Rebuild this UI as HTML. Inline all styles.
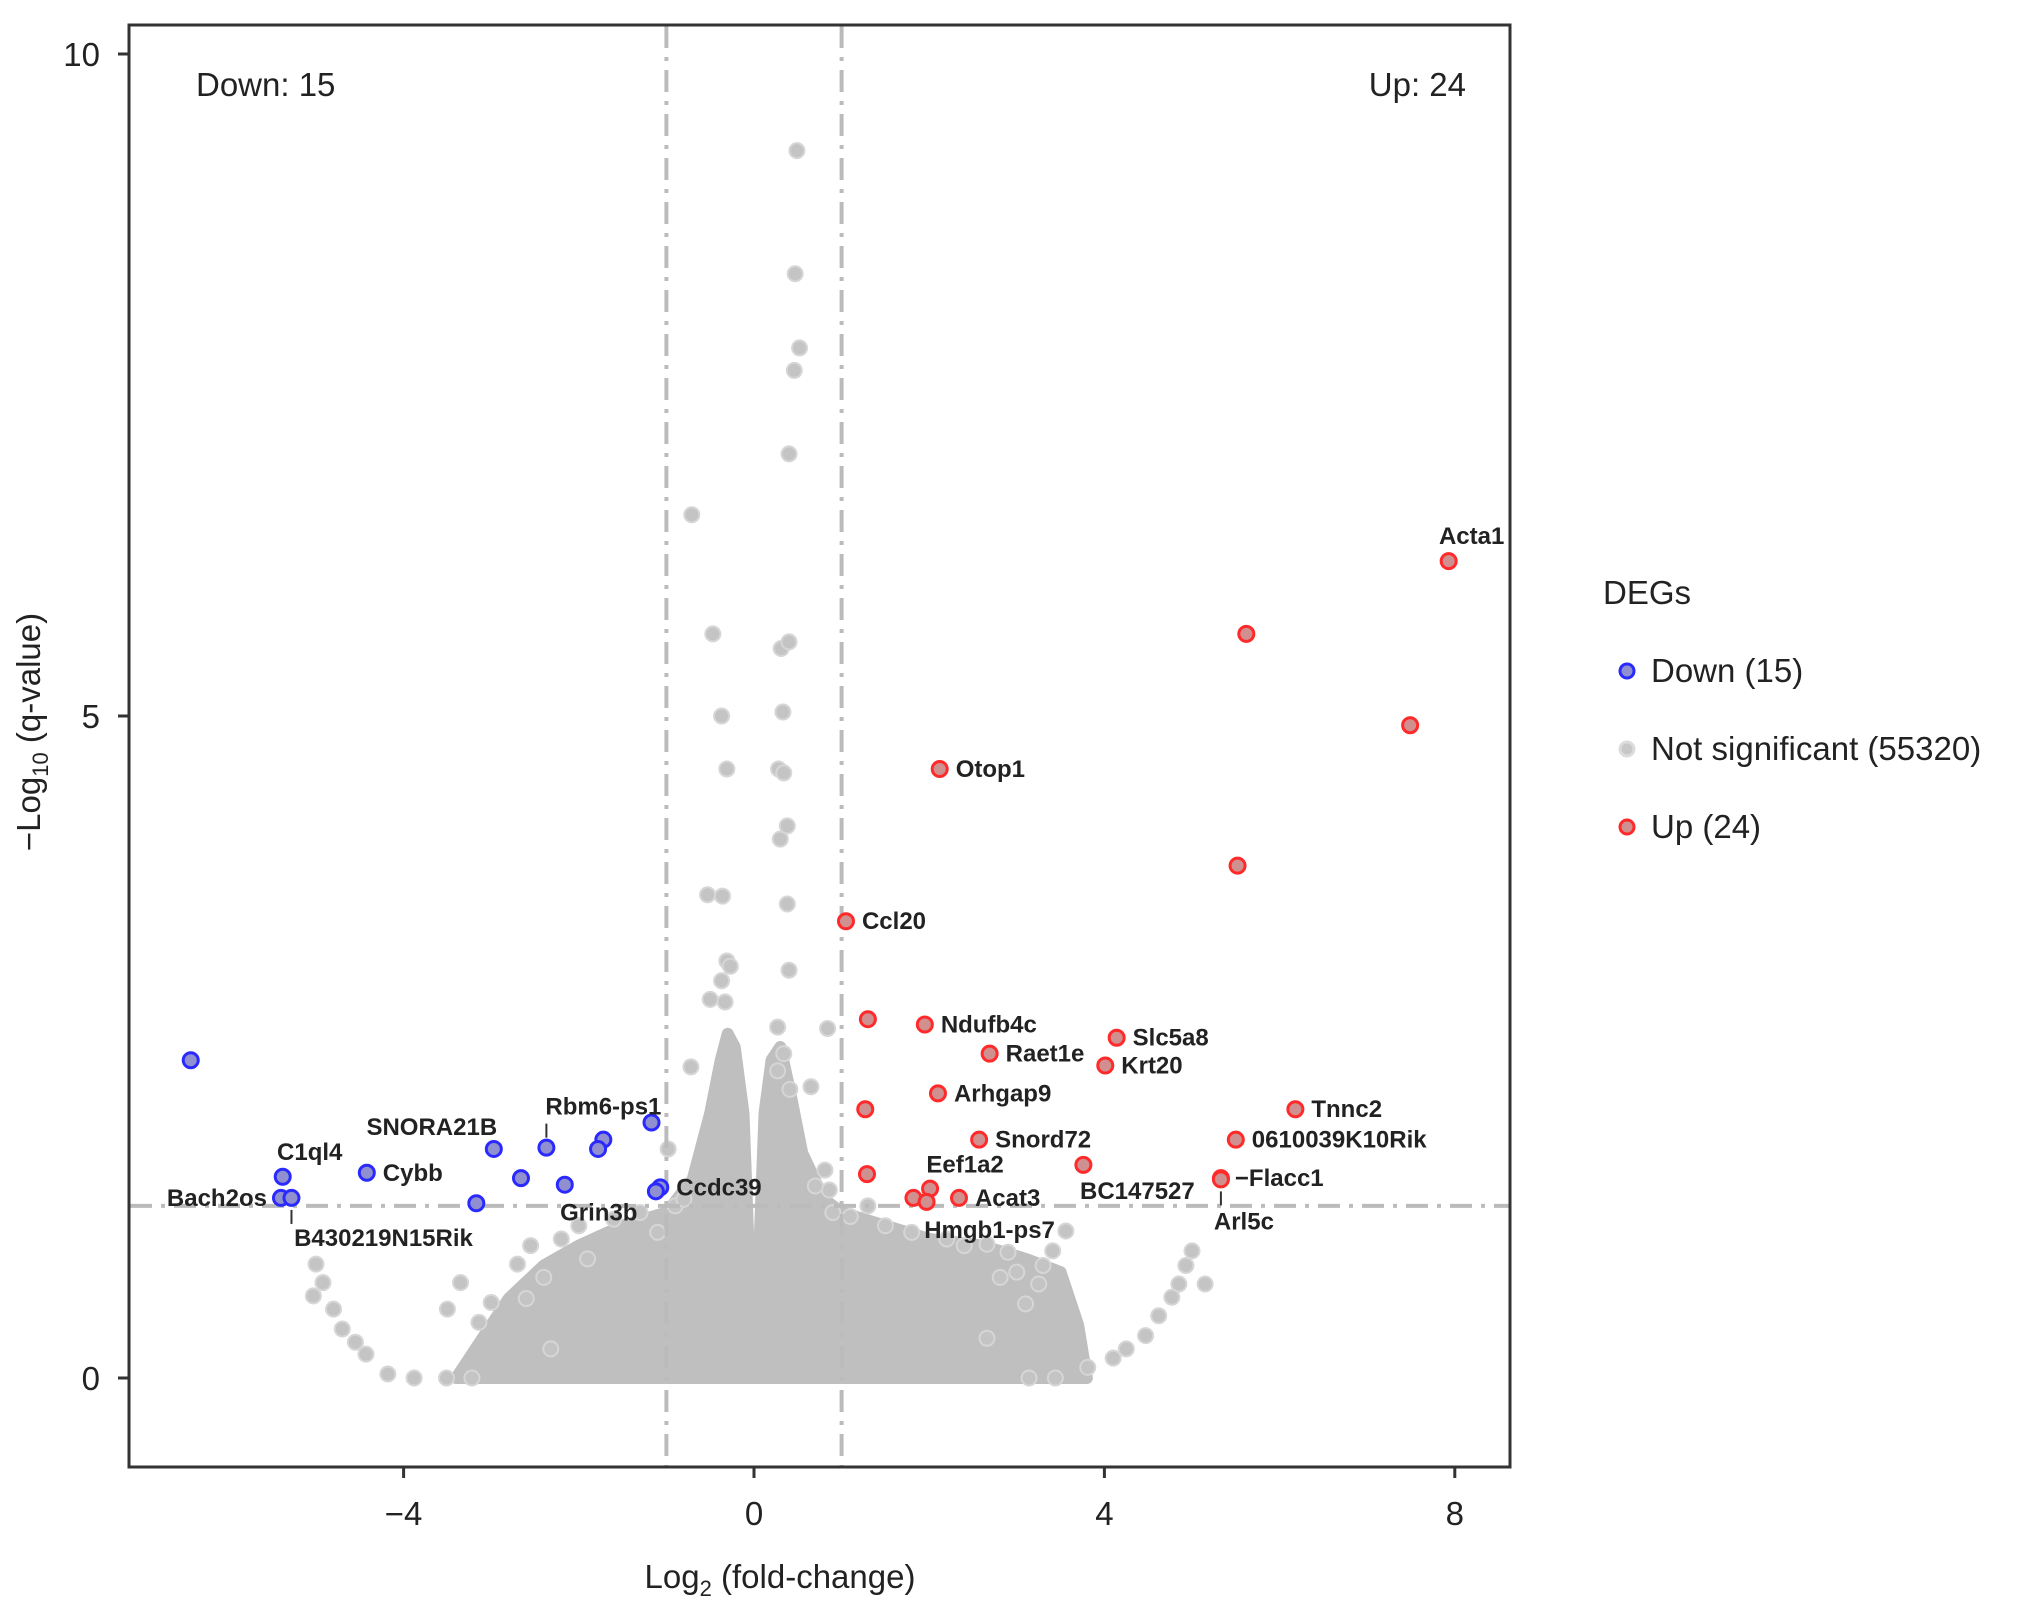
<!DOCTYPE html>
<html><head><meta charset="utf-8">
<style>
html,body{margin:0;padding:0;background:#fff;}
svg{display:block;font-family:"Liberation Sans",Arial,sans-serif;}
</style></head>
<body>
<svg id="chart" width="2032" height="1609" viewBox="0 0 2032 1609" xmlns="http://www.w3.org/2000/svg">
<rect x="0" y="0" width="2032" height="1609" fill="#fff"/>
<g id="cloud"></g>
<g id="grey"></g>
<g id="thr"></g>
<g id="sig"></g>
<g id="labels"></g>
<rect x="129" y="25" width="1381" height="1442" fill="none" stroke="#333" stroke-width="3"/>
<g id="axes"></g>
<text x="196" y="96" font-size="33" fill="#222">Down: 15</text>
<text x="1466" y="96" font-size="33" fill="#222" text-anchor="end">Up: 24</text>
<text x="780" y="1588" font-size="33" fill="#222" text-anchor="middle">Log<tspan font-size="22" dy="8">2</tspan><tspan dy="-8"> (fold-change)</tspan></text>
<text transform="translate(40,732) rotate(-90)" font-size="33" fill="#222" text-anchor="middle">−Log<tspan font-size="22" dy="8">10</tspan><tspan dy="-8"> (q-value)</tspan></text>
<g>
<text x="1603" y="604" font-size="33" fill="#222">DEGs</text>
<circle cx="1627" cy="671" r="7" fill="#9090d0" stroke="#2a2aff" stroke-width="3"/>
<text x="1651" y="682" font-size="33" fill="#222">Down (15)</text>
<circle cx="1627" cy="749" r="7" fill="#c8c8c8" stroke="#dcdcdc" stroke-width="3"/>
<text x="1651" y="760" font-size="33" fill="#222">Not significant (55320)</text>
<circle cx="1627" cy="827" r="7" fill="#d09090" stroke="#ff2a2a" stroke-width="3"/>
<text x="1651" y="838" font-size="33" fill="#222">Up (24)</text>
</g>
</svg>
<script>
// ---- data ----
const upX = [7.93,5.62,7.49,5.52,2.12,1.05,1.30,1.95,2.69,4.14,4.01,2.10,1.27,6.18,2.57,5.50,3.76,5.33,5.33,1.29,2.01,2.34,1.82,1.97];
const upY = [6.17,5.62,4.93,3.87,4.60,3.45,2.71,2.67,2.45,2.57,2.36,2.15,2.03,2.03,1.80,1.80,1.61,1.51,1.50,1.54,1.43,1.36,1.36,1.33];
const upNames = ["Acta1","","","","Otop1","Ccl20","","Ndufb4c","Raet1e","Slc5a8","Krt20","Arhgap9","","Tnnc2","Snord72","0610039K10Rik","BC147527","−Flacc1","Arl5c","","Eef1a2","Acat3","","Hmgb1-ps7"];
const downX = [-6.43,-1.17,-1.72,-1.78,-2.97,-2.37,-4.42,-2.66,-2.16,-5.38,-5.40,-5.28,-3.17,-1.07,-1.12];
const downY = [2.40,1.93,1.80,1.73,1.73,1.74,1.55,1.51,1.46,1.52,1.36,1.36,1.32,1.44,1.41];
const downNames = ["","","","","SNORA21B","Rbm6-ps1","Cybb","","Grin3b","C1ql4","Bach2os","B430219N15Rik","","Ccdc39",""];
const greyX = [0.49,0.47,0.52,0.46,0.40,-0.71,-0.47,0.31,0.40,-0.37,0.33,-0.31,0.28,0.34,0.38,0.30,-0.53,-0.36,0.38,-0.31,-0.27,0.40,-0.37,-0.50,-0.33,0.84,0.27,0.34,-0.72,0.65,0.81,0.86,-0.98,0.41,0.27,
 -5.03,-4.92,-4.80,-4.70,-4.55,-4.43,-4.18,-3.88,-3.51,-3.22,-5.00,-3.35,-3.50,-3.14,-3.00,-2.70,-2.55,-2.40,-2.32,
 5.0,5.15,4.85,4.77,4.62,4.47,4.25,4.10,3.81,3.44,3.14,4.93,3.56,3.41,3.25,3.10,2.66,2.66,2.81,
 -2.0,-1.6,-1.3,-0.9,-2.2,1.1,1.5,2.2,2.9,3.3,0.7,-0.8,1.8,-1.9,2.4,-2.6,3.0,-1.1,1.3,0.9];
const greyY = [9.27,8.34,7.78,7.61,6.98,6.52,5.62,5.51,5.56,5.00,5.03,4.60,4.60,4.57,4.17,4.07,3.65,3.64,3.58,3.15,3.11,3.08,3.00,2.86,2.84,2.64,2.65,2.45,2.35,2.20,1.57,1.42,1.73,2.18,2.32,
 0.62,0.72,0.52,0.37,0.27,0.18,0.03,0.0,0.0,0.0,0.86,0.72,0.52,0.42,0.57,0.86,1.00,0.76,0.22,
 0.96,0.71,0.71,0.61,0.47,0.32,0.22,0.15,0.08,0.0,0.0,0.85,1.11,0.96,0.71,0.56,0.30,1.01,0.76,
 1.15,1.2,1.25,1.3,1.05,1.22,1.15,1.05,0.95,0.85,1.45,1.35,1.1,0.9,1.0,0.6,0.8,1.1,1.3,1.25];
const cloudX = [-3.4,-3.1,-2.8,-2.4,-2.0,-1.5,-1.0,-0.7,-0.5,-0.38,-0.3,-0.22,-0.12,-0.04,0,0.04,0.12,0.2,0.3,0.4,0.55,0.8,1.0,1.5,2.0,2.6,3.1,3.5,3.7,3.8];
const cloudY = [0,0.3,0.6,0.85,1.0,1.15,1.25,1.5,2.0,2.4,2.6,2.5,2.0,0.6,0.2,0.6,2.0,2.4,2.5,2.2,1.7,1.35,1.25,1.15,1.05,1.0,0.9,0.8,0.4,0];
const xTicks = [-4,0,4,8];
const yTicks = [0,5,10];
const fcThreshold = [-1,1];
const qThreshold = 1.3;

// ---- scales ----
function sx(v){return 754 + v*87.6;}
function sy(v){return 1378 - v*132.4;}
const NS="http://www.w3.org/2000/svg";
function mk(tag,attrs,parent){const e=document.createElementNS(NS,tag);for(const k in attrs)e.setAttribute(k,attrs[k]);parent.appendChild(e);return e;}

// cloud
let d="M"+sx(cloudX[0])+","+sy(cloudY[0]);
for(let i=1;i<cloudX.length;i++) d+=" L"+sx(cloudX[i])+","+sy(cloudY[i]);
d+=" Z";
const cl=mk("path",{d:d,fill:"#bfbfbf",stroke:"#bfbfbf","stroke-width":"12","stroke-linejoin":"round"},document.getElementById("cloud"));



const gg=document.getElementById("grey");
for(let i=0;i<greyX.length;i++){
  const c=mk("circle",{cx:sx(greyX[i]),cy:sy(greyY[i]),r:7.5,fill:"#c4c4c4",stroke:"#d6d6d6","stroke-width":"2"},gg);
  
  
}

// thresholds
const tg=document.getElementById("thr");
for(const t of fcThreshold){
  const l=mk("line",{x1:sx(t),x2:sx(t),y1:26,y2:1466,stroke:"#bbbbbb","stroke-width":"4","stroke-dasharray":"22 9 4 9"},tg);
  
  
}
const hl=mk("line",{x1:130,x2:1509,y1:sy(qThreshold),y2:sy(qThreshold),stroke:"#bbbbbb","stroke-width":"4","stroke-dasharray":"22 9 4 9"},tg);



// significant points
const sg=document.getElementById("sig");
for(let i=0;i<downX.length;i++){
  const c=mk("circle",{cx:sx(downX[i]),cy:sy(downY[i]),r:7.5,fill:"#9090d0",stroke:"#2a2aff","stroke-width":"3"},sg);
  
  
}
for(let i=0;i<upX.length;i++){
  const c=mk("circle",{cx:sx(upX[i]),cy:sy(upY[i]),r:7.5,fill:"#d09090",stroke:"#ff2a2a","stroke-width":"3"},sg);
  
  
}

// labels (layout offsets in px, anchor)
const lg=document.getElementById("labels");
const upLayout={"Acta1":[23,-25,"middle"],"BC147527":[54,26,"middle"],"Arl5c":[23,42,"middle"],"Eef1a2":[35,-24,"middle"],"Hmgb1-ps7":[63,28,"middle"],"−Flacc1":[14,0,"start"]};
const downLayout={"SNORA21B":[-62,-22,"middle"],"Rbm6-ps1":[57,-41,"middle"],"C1ql4":[27,-25,"middle"],"Bach2os":[-14,0,"end"],"B430219N15Rik":[92,40,"middle"],"Grin3b":[34,28,"middle"]};
function label(x,y,name,lay){
  if(!name)return;
  const o=lay[name]||[16,0,"start"];
  const t=mk("text",{x:sx(x)+o[0],y:sy(y)+o[1]+8,"font-size":"24","font-weight":"bold",fill:"#222","text-anchor":o[2]},lg);
  t.textContent=name;
  
  
}
for(let i=0;i<upX.length;i++) label(upX[i],upY[i],upNames[i],upLayout);
for(let i=0;i<downX.length;i++) label(downX[i],downY[i],downNames[i],downLayout);
// leader lines
function leader(x,y,dy1,dy2){
  const l=mk("line",{x1:sx(x),x2:sx(x),y1:sy(y)+dy1,y2:sy(y)+dy2,stroke:"#333","stroke-width":"2"},lg);
  
  
}
leader(upX[18],upY[18],12,26);
leader(downX[5],downY[5],-24,-10);
leader(downX[11],downY[11],12,26);

// axes ticks
const ag=document.getElementById("axes");
for(const t of xTicks){
  const l=mk("line",{x1:sx(t),x2:sx(t),y1:1467,y2:1478,stroke:"#333","stroke-width":"3"},ag);
  
  
  const tx=mk("text",{x:sx(t),y:1525,"font-size":"33",fill:"#222","text-anchor":"middle"},ag);
  tx.textContent=(t<0?"−"+Math.abs(t):String(t));
  
  
}
for(const t of yTicks){
  const l=mk("line",{x1:118,x2:129,y1:sy(t),y2:sy(t),stroke:"#333","stroke-width":"3"},ag);
  
  
  const tx=mk("text",{x:100,y:sy(t)+12,"font-size":"33",fill:"#222","text-anchor":"end"},ag);
  tx.textContent=String(t);
  
  
}
</script>
</body></html>
